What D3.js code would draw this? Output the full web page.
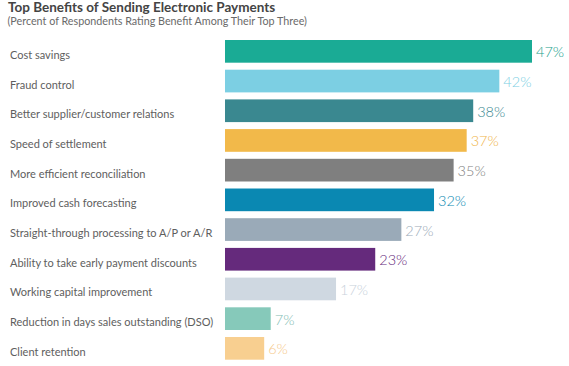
<!DOCTYPE html>
<html>
<head>
<meta charset="utf-8">
<script src="https://cdn.jsdelivr.net/npm/d3@7"></script>
<style>
  html, body { margin: 0; padding: 0; background: #fff; }
  svg { display: block; }
</style>
</head>
<body>
<script>
const categories = [
  "Cost savings",
  "Fraud control",
  "Better supplier/customer relations",
  "Speed of settlement",
  "More efficient reconciliation",
  "Improved cash forecasting",
  "Straight-through processing to A/P or A/R",
  "Ability to take early payment discounts",
  "Working capital improvement",
  "Reduction in days sales outstanding (DSO)",
  "Client retention"
];
const values = [47, 42, 38, 37, 35, 32, 27, 23, 17, 7, 6];
const barColors = ["#1aab95", "#7ccfe3", "#3a8890", "#f2b94a", "#7f7f7f", "#0a88b2",
                   "#9aaab8", "#652a7c", "#cfd8e1", "#86c9ba", "#f8cf90"];
const labelColors = ["#1aa08c", "#7ccfe3", "#3a8890", "#f0b54a", "#7f7f7f", "#0a88b2",
                     "#9aaab8", "#652a7c", "#c9d2db", "#7fbdb4", "#f6c98a"];
const title = "Top Benefits of Sending Electronic Payments";
const subtitle = "(Percent of Respondents Rating Benefit Among Their Top Three)";

const W = 569, H = 366;
const svg = d3.select("body").append("svg").attr("width", W).attr("height", H);

const x = d3.scaleLinear().domain([0, 47]).range([225, 532]);
const y = d3.scaleBand().domain(categories).range([40, 359.7]).paddingInner(0.236).paddingOuter(0);

svg.append("text").attr("x", 8).attr("y", 12)
  .attr("font-family", "Lato, sans-serif").attr("font-weight", 700)
  .attr("font-size", 13.5).attr("fill", "#444").text(title);
svg.append("text").attr("x", 7.5).attr("y", 24.5)
  .attr("font-family", "Lato, sans-serif").attr("font-weight", 400)
  .attr("font-size", 10.75).attr("fill", "#6a6a6a").text(subtitle);

const data = categories.map((c, i) => ({ c, v: values[i], i }));

svg.selectAll("rect.bar").data(data).join("rect")
  .attr("class", "bar")
  .attr("x", x(0))
  .attr("y", d => y(d.c))
  .attr("width", d => x(d.v) - x(0))
  .attr("height", y.bandwidth())
  .attr("fill", d => barColors[d.i]);

svg.selectAll("text.cat").data(data).join("text")
  .attr("class", "cat")
  .attr("x", 10)
  .attr("y", d => y(d.c) + y.bandwidth() / 2 + 7.5)
  .attr("font-family", "Lato, sans-serif")
  .attr("font-size", 11)
  .attr("fill", "#5e5e5e")
  .text(d => d.c);

svg.selectAll("text.val").data(data).join("text")
  .attr("class", "val")
  .attr("x", d => x(d.v) + 4)
  .attr("y", d => y(d.c) + y.bandwidth() / 2 + 6)
  .attr("font-family", "Lato, sans-serif")
  .attr("font-weight", 300)
  .attr("font-size", 14.5)
  .attr("fill", d => labelColors[d.i])
  .text(d => d.v + "%");
</script>
</body>
</html>
